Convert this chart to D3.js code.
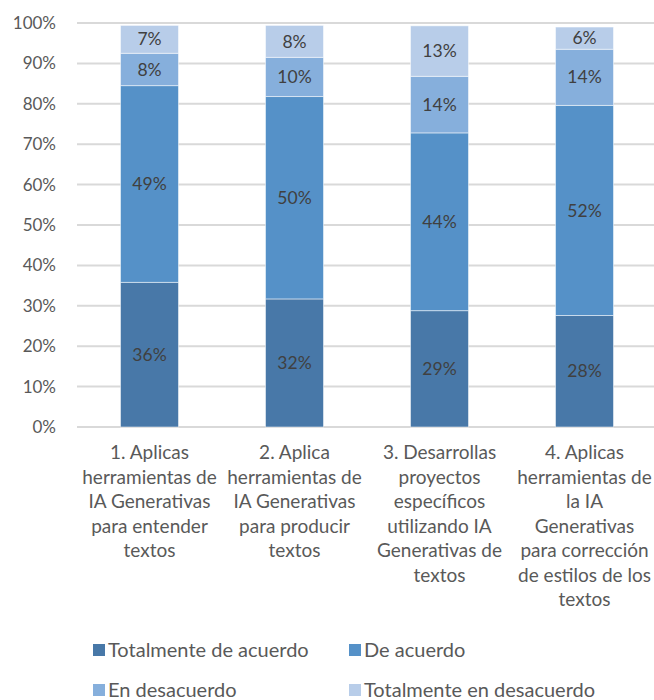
<!DOCTYPE html>
<html>
<head>
<meta charset="utf-8">
<script src="https://cdn.jsdelivr.net/npm/d3@7"></script>
<style>
  body { margin: 0; background: #fff; }
  svg { display: block; font-family: Lato, "Open Sans", sans-serif; }
</style>
</head>
<body>
<div id="chart"></div>
<script>
const categories = [
  ["1. Aplicas", "herramientas de", "IA Generativas", "para entender", "textos"],
  ["2. Aplica", "herramientas de", "IA Generativas", "para producir", "textos"],
  ["3. Desarrollas", "proyectos", "específicos", "utilizando IA", "Generativas de", "textos"],
  ["4. Aplicas", "herramientas de", "la IA", "Generativas", "para corrección", "de estilos de los", "textos"],
];
const seriesNames = [
  "Totalmente de acuerdo",
  "De acuerdo",
  "En desacuerdo",
  "Totalmente en desacuerdo",
];
const totalmenteDeAcuerdo = [35.8, 31.7, 28.8, 27.6];
const deAcuerdo = [48.7, 50.1, 44.0, 52.0];
const enDesacuerdo = [8.0, 9.7, 14.0, 13.9];
const totalmenteEnDesacuerdo = [6.9, 7.9, 12.5, 5.5];
const yTicks = [0, 10, 20, 30, 40, 50, 60, 70, 80, 90, 100];

const colors = ["#4878a8", "#5591c8", "#86afdc", "#b8cde9"];
const seriesValues = [totalmenteDeAcuerdo, deAcuerdo, enDesacuerdo, totalmenteEnDesacuerdo];

const width = 654;
const height = 700;
const marginLeft = 77;
const plotRight = 657;

const rows = categories.map((c, i) => {
  const row = { key: i };
  seriesNames.forEach((s, j) => (row[s] = seriesValues[j][i]));
  return row;
});
const stacked = d3.stack().keys(seriesNames)(rows);

const x = d3
  .scaleBand()
  .domain(d3.range(categories.length))
  .range([marginLeft, plotRight])
  .paddingInner(0.6)
  .paddingOuter(0.3);
const y = d3.scaleLinear().domain([0, 100]).range([427, 23]);
const color = d3.scaleOrdinal().domain(seriesNames).range(colors);

const svg = d3
  .select("#chart")
  .append("svg")
  .attr("width", width)
  .attr("height", height);

// gridlines
svg
  .append("g")
  .selectAll("line")
  .data(yTicks)
  .join("line")
  .attr("x1", marginLeft)
  .attr("x2", plotRight)
  .attr("y1", (d) => y(d))
  .attr("y2", (d) => y(d))
  .attr("stroke", "#d9d9d9")
  .attr("stroke-width", 2);

// y axis labels
svg
  .append("g")
  .call(d3.axisLeft(y).tickValues(yTicks).tickFormat((d) => d + "%").tickSize(0))
  .attr("transform", "translate(56,0)")
  .call((g) => g.select(".domain").remove())
  .call((g) =>
    g
      .selectAll("text")
      .attr("font-family", "Lato, sans-serif")
      .attr("font-size", 17)
      .attr("fill", "#595959")
      .attr("x", 0)
  );

// bars
const layer = svg
  .append("g")
  .selectAll("g")
  .data(stacked)
  .join("g")
  .attr("fill", (d) => color(d.key));

layer
  .selectAll("rect")
  .data((d) => d)
  .join("rect")
  .attr("x", (d) => x(d.data.key))
  .attr("width", x.bandwidth())
  .attr("y", (d) => y(d[1]))
  .attr("height", (d) => y(d[0]) - y(d[1]))
  .attr("stroke", "#ffffff")
  .attr("stroke-opacity", 0.5)
  .attr("stroke-width", 1);

layer
  .selectAll("text")
  .data((d) => d)
  .join("text")
  .attr("x", (d) => x(d.data.key) + x.bandwidth() / 2)
  .attr("y", (d) => (y(d[0]) + y(d[1])) / 2)
  .attr("dy", "0.35em")
  .attr("text-anchor", "middle")
  .attr("font-size", 17.5)
  .attr("fill", "#404040")
  .text((d) => Math.round(d[1] - d[0]) + "%");

// category labels
svg
  .append("g")
  .selectAll("text")
  .data(categories)
  .join("text")
  .attr("text-anchor", "middle")
  .attr("font-size", 19)
  .attr("fill", "#595959")
  .attr("transform", (d, i) => `translate(${x(i) + x.bandwidth() / 2},459)`)
  .selectAll("tspan")
  .data((d) => d)
  .join("tspan")
  .attr("x", 0)
  .attr("y", (d, i) => i * 24.5)
  .text((d) => d);

// legend
const legendPos = [
  [93, 650],
  [349, 650],
  [93, 690],
  [349, 690],
];
const legend = svg
  .append("g")
  .selectAll("g")
  .data(seriesNames)
  .join("g")
  .attr("transform", (d, i) => `translate(${legendPos[i][0]},${legendPos[i][1]})`);
legend
  .append("rect")
  .attr("x", 0)
  .attr("y", -6)
  .attr("width", 12)
  .attr("height", 12)
  .attr("fill", (d) => color(d));
legend
  .append("text")
  .attr("x", 15)
  .attr("dy", "0.35em")
  .attr("font-size", 20)
  .attr("fill", "#595959")
  .text((d) => d);
</script>
</body>
</html>
